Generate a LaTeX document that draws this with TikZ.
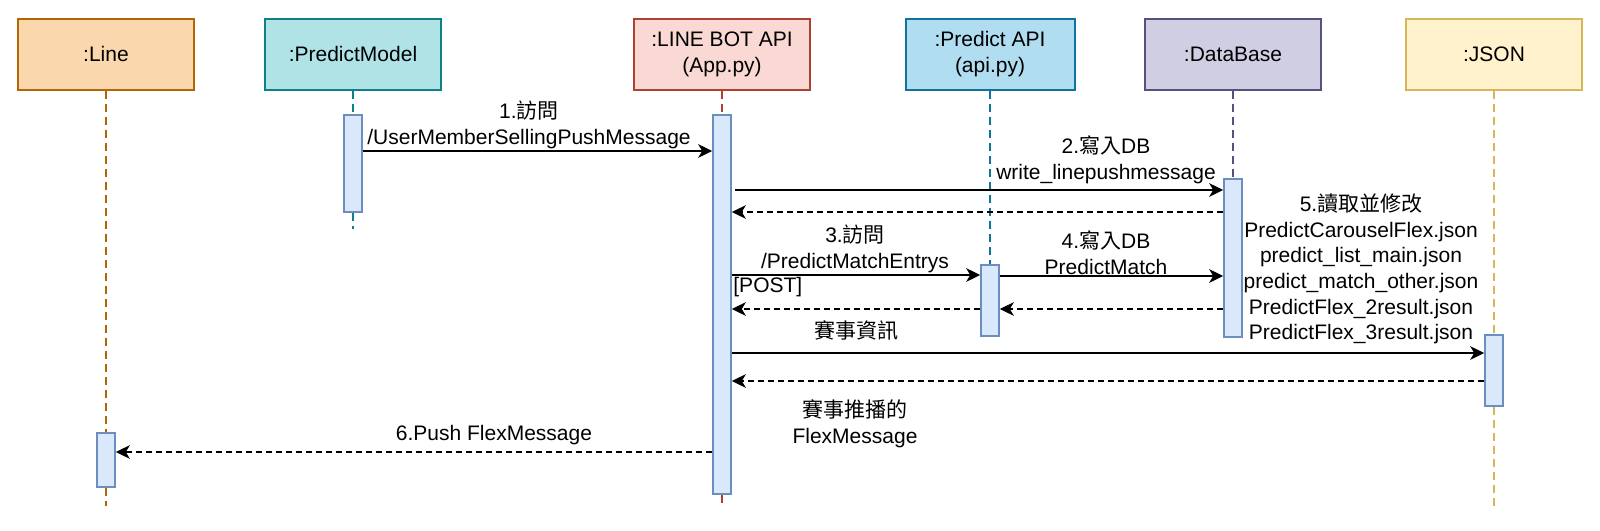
\documentclass[tikz,border=0pt]{standalone}
\usepackage{fontspec}
\setmainfont{Liberation Sans}
\newfontfamily\cjk{Noto Sans CJK TC}
\usepackage{tikz}
\usetikzlibrary{arrows.meta}
\definecolor{lineFill}{HTML}{FAD7AC}
\definecolor{lineDraw}{HTML}{B46504}
\definecolor{modelFill}{HTML}{B0E3E6}
\definecolor{modelDraw}{HTML}{0E8088}
\definecolor{botFill}{HTML}{FAD9D5}
\definecolor{botDraw}{HTML}{AE4132}
\definecolor{apiFill}{HTML}{B1DDF0}
\definecolor{apiDraw}{HTML}{10739E}
\definecolor{dbFill}{HTML}{D0CEE2}
\definecolor{dbDraw}{HTML}{56517E}
\definecolor{jsonFill}{HTML}{FFF2CC}
\definecolor{jsonDraw}{HTML}{D6B656}
\definecolor{actFill}{HTML}{DAE8FC}
\definecolor{actDraw}{HTML}{6C8EBF}

\begin{document}
\begin{tikzpicture}[x=0.5pt,y=-0.5pt,font=\fontsize{10.5}{13}\selectfont]
      \tikzstyle{head}=[rectangle,draw,line width=1pt,minimum width=88pt,minimum height=35.5pt,align=center]
      \tikzstyle{act}=[rectangle,draw=actDraw,fill=actFill,line width=0.8pt,minimum width=9pt,inner sep=0pt]
      \tikzstyle{life}=[dash pattern=on 4pt off 2.5pt,line width=0.6pt]
      \tikzstyle{msg}=[-{Stealth[length=7pt,width=6.8pt,inset=2pt]},line width=1pt]
      \tikzstyle{ret}=[msg,dash pattern=on 3pt off 2pt]
      \tikzstyle{lbl}=[align=center,inner sep=0pt]
      \useasboundingbox (0,0) rectangle (1600,530);
      \node[head,draw=lineDraw,fill=lineFill] (line) at (106,54) {:Line};
      \node[head,draw=modelDraw,fill=modelFill] (model) at (353,54) {:PredictModel};
      \node[head,draw=botDraw,fill=botFill] (bot) at (722,54) {:LINE BOT API\\(App.py)};
      \node[head,draw=apiDraw,fill=apiFill,minimum width=84.5pt] (api) at (990,54) {:Predict API\\(api.py)};
      \node[head,draw=dbDraw,fill=dbFill] (db) at (1233,54) {:DataBase};
      \node[head,draw=jsonDraw,fill=jsonFill] (json) at (1494,54) {:JSON};
      \node[act,minimum height=27pt] (lineact) at (106,460) {};
      \node[act,minimum height=48.5pt] (modelact) at (353,163.5) {};
      \node[act,minimum height=189.5pt] (botact) at (722,304.5) {};
      \node[act,minimum height=35.5pt] (apiact) at (990,300.5) {};
      \node[act,minimum height=79pt] (dbact) at (1233,258) {};
      \node[act,minimum height=35.5pt] (jsonact) at (1494,370.5) {};
      \draw[life,lineDraw] (line) -- (lineact);
      \draw[life,lineDraw] (lineact) -- (line |- 0,506);
      \draw[life,modelDraw] (model) -- (modelact);
      \draw[life,modelDraw] (modelact) -- (model |- 0,229);
      \draw[life,botDraw] (bot) -- (botact);
      \draw[life,botDraw] (botact) -- (bot |- 0,506);
      \draw[life,apiDraw] (api) -- (apiact);
      \draw[life,dbDraw] (db) -- (dbact);
      \draw[life,jsonDraw] (json) -- (jsonact);
      \draw[life,jsonDraw] (jsonact) -- (json |- 0,506);
      \node[lbl] (m1) at (529,124.5) {1.{\cjk 訪問}\\/UserMemberSellingPushMessage};
      \node[lbl] (m2) at (1106,160) {2.{\cjk 寫入}DB\\write\_linepushmessage};
      \node[lbl] (m3) at (855,248.5) {3.{\cjk 訪問}\\/PredictMatchEntrys};
      \node[lbl,anchor=west] (post) at (733,287) {[POST]};
      \node[lbl] (m4) at (1106,253) {4.{\cjk 寫入}DB\\PredictMatch};
      \node[lbl,font=\fontsize{10.5}{12.8}\selectfont] (m5) at (1361,269) {5.{\cjk 讀取並修改}\\PredictCarouselFlex.json\\predict\_list\_main.json\\predict\_match\_other.json\\PredictFlex\_2result.json\\PredictFlex\_3result.json};
      \node[lbl] (info) at (856,330) {\cjk 賽事資訊};
      \node[lbl] (push) at (855,423.5) {{\cjk 賽事推播的}\\FlexMessage};
      \node[lbl] (m6) at (494,435) {6.Push FlexMessage};
      \draw[msg] (modelact.east |- 0,151) -- (botact.west |- 0,151);
      \draw[msg,shorten <=1.5pt] (botact.east |- 0,190) -- (dbact.west |- 0,190);
      \draw[ret] (dbact.west |- 0,212) -- (botact.east |- 0,212);
      \draw[msg] (botact.east |- 0,275) -- (apiact.west |- 0,275);
      \draw[msg] (apiact.east |- 0,276) -- (dbact.west |- 0,276);
      \draw[ret] (dbact.west |- 0,309) -- (apiact.east |- 0,309);
      \draw[ret] (apiact.west |- 0,309) -- (botact.east |- 0,309);
      \draw[msg] (botact.east |- 0,353) -- (jsonact.west |- 0,353);
      \draw[ret] (jsonact.west |- 0,381) -- (botact.east |- 0,381);
      \draw[ret] (botact.west |- 0,452) -- (lineact.east |- 0,452);
    \end{tikzpicture}
\end{document}
